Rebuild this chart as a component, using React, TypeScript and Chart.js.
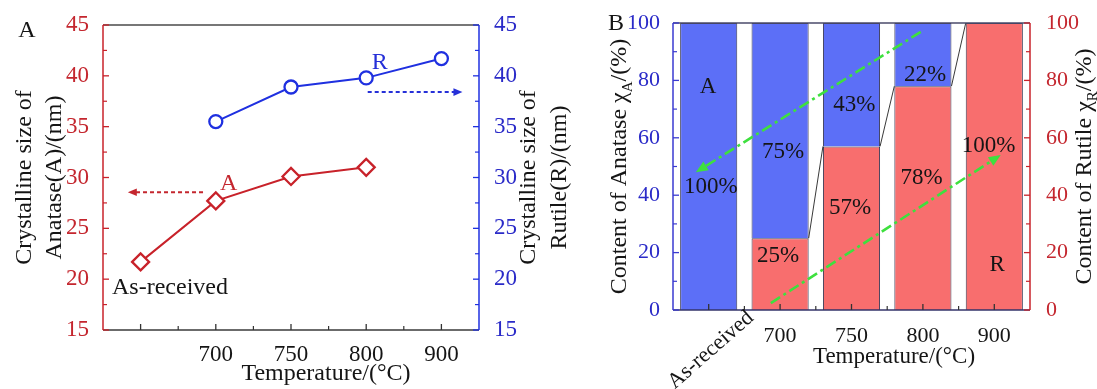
import React, { useEffect, useRef } from 'react';
import { Chart, registerables } from 'chart.js';

Chart.register(...registerables);

// ---------- data ----------
const categories = ['As-received', '700', '750', '800', '900'];
const anataseSize = [21.7, 27.7, 30.1, 31.0, null];
const rutileSize = [null, 35.5, 38.9, 39.8, 41.7];
const sizeTicks = [15, 20, 25, 30, 35, 40, 45];
const rutileContent = [0, 25, 57, 78, 100];
const anataseContent = [100, 75, 43, 22, 0];
const contentTicks = [0, 20, 40, 60, 80, 100];

// annotation text placed in data units (category index, value)
const sizeNotes = [
  { text: 'As-received', idx: -0.38, value: 19.2, axis: 'y', color: '#151515', align: 'left' },
  { text: 'A', idx: 1.17, value: 29.4, axis: 'y', color: '#c4262e', align: 'center' },
  { text: 'R', idx: 3.18, value: 41.3, axis: 'y1', color: '#2630d8', align: 'center' },
];
const sizeArrows = [
  { from: [0.83, 28.55], to: [-0.17, 28.55], axis: 'y', color: '#c4262e' },
  { from: [3.02, 38.4], to: [4.28, 38.4], axis: 'y1', color: '#2630d8' },
];
const contentNotes = [
  { text: 'A', idx: -0.01, value: 77.7 },
  { text: '100%', idx: 0.03, value: 43 },
  { text: '75%', idx: 1.04, value: 55 },
  { text: '25%', idx: 0.97, value: 19 },
  { text: '43%', idx: 2.04, value: 71.4 },
  { text: '57%', idx: 1.98, value: 35.5 },
  { text: '22%', idx: 3.03, value: 82 },
  { text: '78%', idx: 2.98, value: 46 },
  { text: '100%', idx: 3.92, value: 57 },
  { text: 'R', idx: 4.04, value: 15.7 },
];
const contentArrows = [
  { from: [2.97, 96.9], to: [-0.18, 48] },
  { from: [0.87, 2.4], to: [4.09, 54] },
];

const FONT = '"Liberation Serif", "Times New Roman", serif';
const RED = '#c8222a';
const BLUE = '#1f30e0';
const RED_T = '#c4262e';
const BLUE_T = '#2a2ac8';
const BAR_BLUE = '#5c6ff7';
const BAR_RED = '#f86e6e';
const GREEN = '#3ee03e';

type Seg = { t: string; sub?: boolean };

function drawRotated(ctx: CanvasRenderingContext2D, segs: Seg[], cx: number, cy: number, size: number, color: string, angle = -Math.PI / 2) {
  ctx.save();
  ctx.translate(cx, cy);
  ctx.rotate(angle);
  ctx.fillStyle = color;
  ctx.textBaseline = 'middle';
  ctx.textAlign = 'left';
  const main = `${size}px ${FONT}`;
  const sub = `${Math.round(size * 0.62)}px ${FONT}`;
  let total = 0;
  for (const s of segs) {
    ctx.font = s.sub ? sub : main;
    total += ctx.measureText(s.t).width;
  }
  let x = -total / 2;
  for (const s of segs) {
    ctx.font = s.sub ? sub : main;
    ctx.fillText(s.t, x, s.sub ? size * 0.32 : 0);
    x += ctx.measureText(s.t).width;
  }
  ctx.restore();
}

function drawText(ctx: CanvasRenderingContext2D, t: string, x: number, y: number, size: number, color: string, align: CanvasTextAlign = 'center') {
  ctx.save();
  ctx.font = `${size}px ${FONT}`;
  ctx.fillStyle = color;
  ctx.textAlign = align;
  ctx.textBaseline = 'middle';
  ctx.fillText(t, x, y);
  ctx.restore();
}

function drawArrow(ctx: CanvasRenderingContext2D, x1: number, y1: number, x2: number, y2: number, color: string, width: number, dash: number[], head: number) {
  const ang = Math.atan2(y2 - y1, x2 - x1);
  const c = Math.cos(ang), s = Math.sin(ang);
  ctx.save();
  ctx.strokeStyle = color;
  ctx.lineWidth = width;
  ctx.setLineDash(dash);
  ctx.beginPath();
  ctx.moveTo(x1, y1);
  ctx.lineTo(x2 - c * head * 0.8, y2 - s * head * 0.8);
  ctx.stroke();
  ctx.setLineDash([]);
  ctx.fillStyle = color;
  ctx.beginPath();
  ctx.moveTo(x2, y2);
  const bx = x2 - c * head, by = y2 - s * head;
  const w = head * 0.42;
  ctx.lineTo(bx + s * w, by - c * w);
  ctx.lineTo(bx - s * w, by + c * w);
  ctx.closePath();
  ctx.fill();
  ctx.restore();
}

function catPx(scale: any, idx: number) {
  const p0 = scale.getPixelForValue(0);
  const p1 = scale.getPixelForValue(1);
  return p0 + (p1 - p0) * idx;
}

function line(ctx: CanvasRenderingContext2D, x1: number, y1: number, x2: number, y2: number, color: string, w: number) {
  ctx.save();
  ctx.strokeStyle = color;
  ctx.lineWidth = w;
  ctx.beginPath();
  ctx.moveTo(x1, y1);
  ctx.lineTo(x2, y2);
  ctx.stroke();
  ctx.restore();
}

function drawYTicks(ctx: CanvasRenderingContext2D, scale: any, ticks: number[], x: number, dir: number, color: string) {
  const step = ticks[1] - ticks[0];
  for (let i = 0; i < ticks.length; i++) {
    const y = scale.getPixelForValue(ticks[i]);
    line(ctx, x, y, x + dir * 6, y, color, 1.3);
    if (i < ticks.length - 1) {
      const ym = scale.getPixelForValue(ticks[i] + step / 2);
      line(ctx, x, ym, x + dir * 4, ym, color, 1.2);
    }
  }
}

function drawXTicks(ctx: CanvasRenderingContext2D, scale: any, n: number, y: number, color: string) {
  for (let i = 0; i < n; i++) {
    const x = catPx(scale, i);
    line(ctx, x, y, x, y - 6, color, 1.3);
    if (i < n - 1) {
      const xm = catPx(scale, i + 0.5);
      line(ctx, xm, y, xm, y - 4, color, 1.2);
    }
  }
}

const decorA = {
  id: 'decorA',
  afterDatasetsDraw(chart: any) {
    const { ctx, chartArea: a, scales } = chart;
    const { x, y, y1 } = scales;
    // frame
    line(ctx, a.left, a.top, a.right, a.top, '#4a4a4a', 1.5);
    line(ctx, a.left, a.bottom, a.right, a.bottom, '#3a3a3a', 1.5);
    line(ctx, a.left, a.top, a.left, a.bottom, RED, 1.5);
    line(ctx, a.right, a.top, a.right, a.bottom, BLUE, 1.5);
    drawYTicks(ctx, y, sizeTicks, a.left, 1, RED);
    drawYTicks(ctx, y1, sizeTicks, a.right, -1, BLUE);
    drawXTicks(ctx, x, categories.length, a.bottom, '#333');
    // arrows
    for (const ar of sizeArrows) {
      const sc = scales[ar.axis];
      drawArrow(ctx, catPx(x, ar.from[0]), sc.getPixelForValue(ar.from[1]), catPx(x, ar.to[0]), sc.getPixelForValue(ar.to[1]), ar.color, 2, [4, 3], 9);
    }
    for (const n of sizeNotes) {
      drawText(ctx, n.text, catPx(x, n.idx), scales[n.axis].getPixelForValue(n.value), 24, n.color, n.align as CanvasTextAlign);
    }
    // titles
    const cy = (a.top + a.bottom) / 2;
    drawRotated(ctx, [{ t: 'Crystalline size of' }], 25, cy, 24, '#151515');
    drawRotated(ctx, [{ t: 'Anatase(A)/(nm)' }], 55, cy, 24, '#151515');
    drawRotated(ctx, [{ t: 'Crystalline size of' }], 529, cy, 24, '#151515');
    drawRotated(ctx, [{ t: 'Rutile(R)/(nm)' }], 560, cy, 24, '#151515');
    drawText(ctx, 'Temperature/(\u00B0C)', 326, 374, 24, '#151515');
    drawText(ctx, 'A', 27, 31, 24, '#151515');
  },
};

const decorB = {
  id: 'decorB',
  afterDatasetsDraw(chart: any) {
    const { ctx, chartArea: a, scales } = chart;
    const { x, y, y1 } = scales;
    // connectors between red tops
    const meta = chart.getDatasetMeta(0);
    for (let i = 1; i < meta.data.length - 1; i++) {
      const b0 = meta.data[i], b1 = meta.data[i + 1];
      line(ctx, b0.x + b0.width / 2, b0.y, b1.x - b1.width / 2, b1.y, '#222', 0.9);
    }
    line(ctx, a.left, a.top, a.right, a.top, '#4a4a6a', 1.4);
    line(ctx, a.left, a.bottom, a.right, a.bottom, '#33336a', 1.5);
    line(ctx, a.left, a.top, a.left, a.bottom, '#3a3ad0', 1.5);
    line(ctx, a.right, a.top, a.right, a.bottom, RED, 1.5);
    drawYTicks(ctx, y, contentTicks, a.left, 1, '#3a3ad0');
    drawYTicks(ctx, y1, contentTicks, a.right, -1, RED);
    drawXTicks(ctx, x, categories.length, a.bottom, '#333');
    for (const ar of contentArrows) {
      drawArrow(ctx, catPx(x, ar.from[0]), y.getPixelForValue(ar.from[1]), catPx(x, ar.to[0]), y.getPixelForValue(ar.to[1]), GREEN, 2.6, [11, 4, 3, 4], 12);
    }
    for (const n of contentNotes) {
      drawText(ctx, n.text, catPx(x, n.idx), y.getPixelForValue(n.value), 23, '#151515');
    }
    // rotated first category label
    drawRotated(ctx, [{ t: categories[0] }], catPx(x, 0.03), a.bottom + 40, 22, '#151515', -0.72);
    const cy = (a.top + a.bottom) / 2;
    drawRotated(ctx, [{ t: 'Content of Anatase \u03C7' }, { t: 'A', sub: true }, { t: '/(%)' }], 25, cy, 24, '#151515');
    drawRotated(ctx, [{ t: 'Content of Rutile \u03C7' }, { t: 'R', sub: true }, { t: '/(%)' }], 490, cy, 24, '#151515');
    drawText(ctx, 'Temperature/(\u00B0C)', 299, 357, 23, '#151515');
    drawText(ctx, 'B', 21, 24, 24, '#151515');
  },
};

const tickFontA = { family: FONT, size: 23 };
const tickFontB = { family: FONT, size: 22 };

export default function App() {
  const refA = useRef<HTMLCanvasElement>(null);
  const refB = useRef<HTMLCanvasElement>(null);

  useEffect(() => {
    const chartA = new Chart(refA.current as HTMLCanvasElement, {
      type: 'line',
      data: {
        labels: categories,
        datasets: [
          {
            label: 'Anatase',
            data: anataseSize,
            yAxisID: 'y',
            borderColor: RED,
            borderWidth: 2,
            pointStyle: 'rectRot',
            pointRadius: 8.5,
            pointBorderWidth: 2.3,
            pointBackgroundColor: '#ffffff',
            pointBorderColor: RED,
          },
          {
            label: 'Rutile',
            data: rutileSize,
            yAxisID: 'y1',
            borderColor: BLUE,
            borderWidth: 2,
            pointStyle: 'circle',
            pointRadius: 6.5,
            pointBorderWidth: 2.3,
            pointBackgroundColor: '#ffffff',
            pointBorderColor: BLUE,
          },
        ],
      },
      options: {
        responsive: false,
        animation: false,
        layout: { padding: { top: 25, left: 0, right: 0, bottom: 0 } },
        plugins: { legend: { display: false }, tooltip: { enabled: false } },
        scales: {
          x: {
            type: 'category',
            offset: true,
            grid: { display: false },
            border: { display: false },
            ticks: {
              color: '#151515',
              font: tickFontA,
              padding: 3,
              autoSkip: false,
              maxRotation: 0,
              callback: (_v: any, i: number) => (i === 0 ? '' : categories[i]),
            },
            afterFit: (s: any) => { s.height = 59; },
          },
          y: {
            position: 'left',
            min: sizeTicks[0],
            max: sizeTicks[sizeTicks.length - 1],
            grid: { display: false },
            border: { display: false },
            ticks: { stepSize: sizeTicks[1] - sizeTicks[0], color: RED_T, font: tickFontA, padding: 6 },
            afterFit: (s: any) => { s.width = 103; },
          },
          y1: {
            position: 'right',
            min: sizeTicks[0],
            max: sizeTicks[sizeTicks.length - 1],
            grid: { display: false },
            border: { display: false },
            ticks: { stepSize: sizeTicks[1] - sizeTicks[0], color: BLUE_T, font: tickFontA, padding: 7 },
            afterFit: (s: any) => { s.width = 116; },
          },
        },
      } as any,
      plugins: [decorA],
    });

    const chartB = new Chart(refB.current as HTMLCanvasElement, {
      type: 'bar',
      data: {
        labels: categories,
        datasets: [
          {
            label: 'Rutile',
            data: rutileContent,
            backgroundColor: BAR_RED,
            borderColor: '#3a3a55',
            borderWidth: 1,
            barPercentage: 0.8,
            categoryPercentage: 1,
          },
          {
            label: 'Anatase',
            data: anataseContent,
            backgroundColor: BAR_BLUE,
            borderColor: '#3a3a55',
            borderWidth: 1,
            barPercentage: 0.8,
            categoryPercentage: 1,
          },
        ],
      },
      options: {
        responsive: false,
        animation: false,
        layout: { padding: { top: 23, left: 0, right: 0, bottom: 0 } },
        plugins: { legend: { display: false }, tooltip: { enabled: false } },
        scales: {
          x: {
            stacked: true,
            offset: true,
            grid: { display: false },
            border: { display: false },
            ticks: {
              color: '#151515',
              font: tickFontB,
              padding: 5,
              autoSkip: false,
              maxRotation: 0,
              callback: (_v: any, i: number) => (i === 0 ? '' : categories[i]),
            },
            afterFit: (s: any) => { s.height = 79; },
          },
          y: {
            stacked: true,
            position: 'left',
            min: contentTicks[0],
            max: contentTicks[contentTicks.length - 1],
            grid: { display: false },
            border: { display: false },
            ticks: { stepSize: contentTicks[1] - contentTicks[0], color: BLUE_T, font: tickFontB, padding: 5 },
            afterFit: (s: any) => { s.width = 78; },
          },
          y1: {
            position: 'right',
            min: contentTicks[0],
            max: contentTicks[contentTicks.length - 1],
            grid: { display: false },
            border: { display: false },
            ticks: { stepSize: contentTicks[1] - contentTicks[0], color: RED_T, font: tickFontB, padding: 8 },
            afterFit: (s: any) => { s.width = 67; },
          },
        },
      } as any,
      plugins: [decorB],
    });

    return () => {
      chartA.destroy();
      chartB.destroy();
    };
  }, []);

  return (
    <div style={{ position: 'fixed', left: 0, top: 0, width: 1097, height: 389, background: '#ffffff', overflow: 'hidden' }}>
      <canvas ref={refA} width={595} height={389} style={{ position: 'absolute', left: 0, top: 0, width: 595, height: 389 }} />
      <canvas ref={refB} width={502} height={389} style={{ position: 'absolute', left: 595, top: 0, width: 502, height: 389 }} />
    </div>
  );
}
